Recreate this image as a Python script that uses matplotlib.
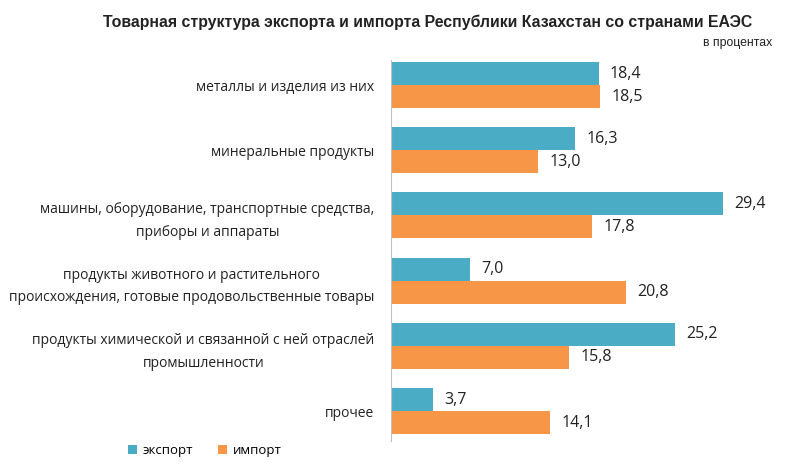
import matplotlib.pyplot as plt
import numpy as np
from matplotlib import font_manager

categories = [
    'металлы и изделия из них',
    'минеральные продукты',
    'машины, оборудование, транспортные средства,\nприборы и аппараты',
    'продукты животного и растительного\nпроисхождения, готовые продовольственные товары',
    'продукты химической и связанной с ней отраслей\nпромышленности',
    'прочее',
]
export_vals = [18.4, 16.3, 29.4, 7.0, 25.2, 3.7]
import_vals = [18.5, 13.0, 17.8, 20.8, 15.8, 14.1]
series_names = ['экспорт', 'импорт']

EXPORT_COLOR = '#4BACC6'
IMPORT_COLOR = '#F79646'

names = {f.name for f in font_manager.fontManager.ttflist}
narrow = 'Liberation Sans Narrow' if 'Liberation Sans Narrow' in names else 'Liberation Sans'
plt.rcParams['font.family'] = ['Open Sans', 'DejaVu Sans']

fig = plt.figure(figsize=(8, 4.65), dpi=100)
ax = fig.add_axes([0.489, 0.0516, 0.499, 0.819])

y = np.arange(len(categories))
h = 0.353
ax.barh(y - h / 2, export_vals, height=h, color=EXPORT_COLOR, label=series_names[0])
ax.barh(y + h / 2, import_vals, height=h, color=IMPORT_COLOR, label=series_names[1])

# value labels, comma as decimal separator
for yi, v in zip(y, export_vals):
    ax.text(v + 1.0, yi - h / 2, f'{v:.1f}'.replace('.', ','), va='center', ha='left',
            fontsize=11.5, color='#222222')
for yi, v in zip(y, import_vals):
    ax.text(v + 1.0, yi + h / 2, f'{v:.1f}'.replace('.', ','), va='center', ha='left',
            fontsize=11.5, color='#222222')

ax.set_xlim(0, 35.4)
ax.set_ylim(5.46, -0.383)
ax.set_yticks(y)
ax.set_yticklabels(categories, fontsize=10, ha='right', color='#222222',
                   linespacing=1.7)
for lbl in ax.get_yticklabels():
    lbl.set_multialignment('center')
ax.tick_params(axis='y', length=0, pad=12)
ax.set_xticks([])
for s in ['top', 'right', 'bottom']:
    ax.spines[s].set_visible(False)
ax.spines['left'].set_color('#BFBFBF')

fig.text(0.535, 0.952, 'Товарная структура экспорта и импорта Республики Казахстан со странами ЕАЭС',
         ha='center', va='center', fontsize=11.4, fontweight='bold',
         family=[narrow, 'DejaVu Sans'], color='#222222')
fig.text(0.965, 0.907, 'в процентах', ha='right', va='center', fontsize=8.8,
         family=[narrow, 'DejaVu Sans'], color='#222222')

fig.legend(loc='lower left', bbox_to_anchor=(0.145, -0.008), ncol=2, frameon=False,
           fontsize=9.5, handlelength=0.7, handleheight=0.7, handletextpad=0.4,
           columnspacing=1.9)

fig.savefig('out.png', dpi=100)
